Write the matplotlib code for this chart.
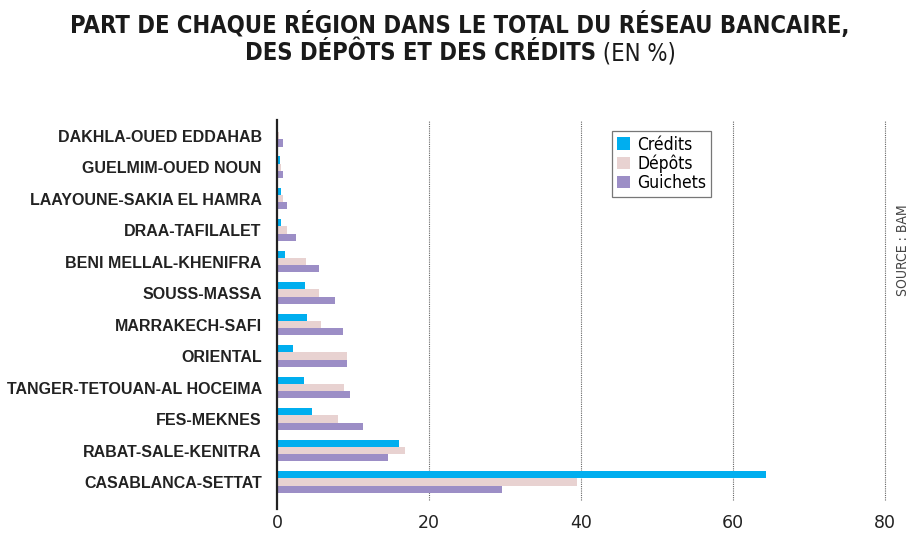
import numpy as np
import matplotlib.pyplot as plt

# regions, bottom to top
regions = ['CASABLANCA-SETTAT', 'RABAT-SALE-KENITRA', 'FES-MEKNES',
           'TANGER-TETOUAN-AL HOCEIMA', 'ORIENTAL', 'MARRAKECH-SAFI',
           'SOUSS-MASSA', 'BENI MELLAL-KHENIFRA', 'DRAA-TAFILALET',
           'LAAYOUNE-SAKIA EL HAMRA', 'GUELMIM-OUED NOUN', 'DAKHLA-OUED EDDAHAB']

# shares (%)
credits = [64.3, 16.0, 4.6, 3.6, 2.1, 4.0, 3.7, 1.1, 0.5, 0.5, 0.4, 0.2]
depots = [39.5, 16.8, 8.0, 8.8, 9.2, 5.8, 5.6, 3.8, 1.3, 0.8, 0.5, 0.3]
guichets = [29.6, 14.6, 11.3, 9.6, 9.2, 8.7, 7.6, 5.5, 2.5, 1.3, 0.8, 0.8]

xticks = [0, 20, 40, 60, 80]

c_cred = '#00aeef'
c_dep = '#e8d2d1'
c_gui = '#9c8ec6'

fig = plt.figure(figsize=(9.2, 5.5), dpi=100)
ax = fig.add_axes([0.301, 0.091, 0.661, 0.691])

y = np.arange(len(regions))
h = 0.23
ax.barh(y + h, credits, height=h, color=c_cred, label='Crédits')
ax.barh(y, depots, height=h, color=c_dep, label='Dépôts')
ax.barh(y - h, guichets, height=h, color=c_gui, label='Guichets')

ax.set_xlim(0, 80)
ax.set_ylim(-0.57, 11.5)
ax.set_xticks(xticks)
ax.set_xticklabels([str(v) for v in xticks], fontsize=12.5, color='#222222')
ax.set_yticks(y)
ax.set_yticklabels(regions, fontsize=11.5, fontweight='bold', color='#222222',
                   family='Liberation Sans')
ax.tick_params(axis='both', length=0)
ax.tick_params(axis='x', pad=10)
ax.tick_params(axis='y', pad=11)

for v in xticks[1:]:
    ax.axvline(v, color='#666666', linestyle=(0, (1, 1)), linewidth=0.8,
               zorder=0, clip_on=False)

for s in ['top', 'right', 'bottom']:
    ax.spines[s].set_visible(False)
ax.spines['left'].set_linewidth(1.6)
ax.spines['left'].set_color('#222222')
ax.spines['left'].set_bounds(-0.85, 11.5)

leg = ax.legend(loc='upper left', bbox_to_anchor=(0.551, 0.972), frameon=True,
                fancybox=False, edgecolor='#555555', handlelength=0.75,
                handleheight=0.75, handletextpad=0.4, labelspacing=0.05,
                borderpad=0.3, borderaxespad=0,
                prop={'family': 'DejaVu Sans', 'stretch': 'condensed', 'size': 12.5})
leg.get_frame().set_linewidth(0.9)

# title
tkw = dict(fontsize=17, family='DejaVu Sans', stretch='condensed', color='#1a1a1a')
fig.text(0.5, 0.955, 'PART DE CHAQUE RÉGION DANS LE TOTAL DU RÉSEAU BANCAIRE,',
         ha='center', va='center', fontweight='bold', **tkw)
t1 = fig.text(0.5, 0.903, 'DES DÉPÔTS ET DES CRÉDITS', ha='left', va='center',
              fontweight='bold', **tkw)
t2 = fig.text(0.5, 0.903, ' (EN %)', ha='left', va='center', **tkw)
fig.canvas.draw()
r = fig.canvas.get_renderer()
w1 = t1.get_window_extent(r).width
w2 = t2.get_window_extent(r).width
figw = fig.bbox.width
x0 = (figw - w1 - w2) / 2
t1.set_x(x0 / figw)
t2.set_x((x0 + w1) / figw)

fig.text(0.981, 0.545, 'SOURCE : BAM', rotation=90, ha='center', va='center',
         fontsize=10, family='DejaVu Sans', stretch='condensed', color='#444444')

fig.savefig('out.png', dpi=100, facecolor='white')
